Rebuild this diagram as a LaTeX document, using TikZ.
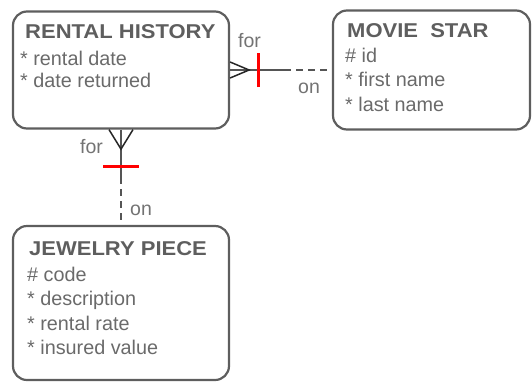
\documentclass[tikz,border=0pt]{standalone}
\usepackage{fontspec}
\setmainfont{Liberation Sans}
\newfontfamily\titlefont[FakeStretch=1.1]{Liberation Sans}
\usetikzlibrary{calc}

\definecolor{boxgray}{HTML}{5E5E5E}
\definecolor{textgray}{HTML}{6A6A6A}
\definecolor{lblgray}{HTML}{737373}
\definecolor{relgray}{HTML}{555555}

\tikzset{
  entity/.style={draw=boxgray, line width=2.2pt, rounded corners=14pt, inner sep=0pt},
  etitle/.style={anchor=base west, inner sep=0pt, text=boxgray,
    font=\titlefont\bfseries\fontsize{20}{24}\selectfont},
  attr/.style={anchor=base west, inner sep=0pt, text=textgray,
    font=\fontsize{19.8}{22}\selectfont},
  lbl/.style={anchor=base west, inner sep=0pt, text=lblgray,
    font=\fontsize{19.5}{22}\selectfont},
  rel/.style={draw=relgray, line width=1.3pt},
  reldash/.style={rel, dash pattern=on 7pt off 5pt},
  crow/.style={draw=black!85, line width=1.5pt},
  onebar/.style={draw=red, line width=3pt}
}

\begin{document}
\begin{tikzpicture}[x=1pt, y=-1pt]
  \useasboundingbox (0,0) rectangle (532,381);

  % entities
  \node[entity, minimum width=216pt, minimum height=117pt] (rh) at (121,70) {};
  \node[etitle] (rhT) at (25,38) {RENTAL HISTORY};
  \node[attr] (rh1) at (20,65) {* rental date};
  \node[attr] (rh2) at (20,87) {* date returned};

  \node[entity, minimum width=197pt, minimum height=119pt] (ms) at (431.5,70) {};
  \node[etitle] (msT) at (347,37) {MOVIE\ \ STAR};
  \node[attr] (ms1) at (345,62) {\# id};
  \node[attr] (ms2) at (345,86.5) {* first name};
  \node[attr] (ms3) at (345,111) {* last name};

  \node[entity, minimum width=216pt, minimum height=154pt] (jp) at (121,303) {};
  \node[etitle] (jpT) at (29,255) {JEWELRY PIECE};
  \node[attr] (jp1) at (27,281) {\# code};
  \node[attr] (jp2) at (27,305.5) {* description};
  \node[attr] (jp3) at (27,330) {* rental rate};
  \node[attr] (jp4) at (27,354.5) {* insured value};

  % rental history -- movie star
  \coordinate (m1) at ($(rh.east)!0.53!(ms.west)$);
  \draw[rel] (rh.east) -- (m1);
  \draw[reldash] (m1) -- (ms.west);
  \draw[crow] ([yshift=-8pt]rh.east) -- ([xshift=19pt]rh.east) -- ([yshift=8pt]rh.east);
  \draw[onebar] ([xshift=28pt,yshift=-17pt]rh.east) -- ([xshift=28pt,yshift=17pt]rh.east);
  \node[lbl] (for1) at (238,47) {for};
  \node[lbl] (on1) at (298,93) {on};

  % rental history -- jewelry piece
  \coordinate (m2) at ($(rh.south)!0.5!(jp.north)$);
  \draw[rel] (rh.south) -- (m2);
  \draw[reldash] (m2) -- (jp.north);
  \draw[crow] ([xshift=-12pt]rh.south) -- ([yshift=-19.5pt]rh.south) -- ([xshift=12pt]rh.south);
  \draw[onebar] ([xshift=-18pt,yshift=-36.5pt]rh.south) -- ([xshift=18pt,yshift=-36.5pt]rh.south);
  \node[lbl] (for2) at (80,153) {for};
  \node[lbl] (on2) at (130,215) {on};
\end{tikzpicture}
\end{document}
